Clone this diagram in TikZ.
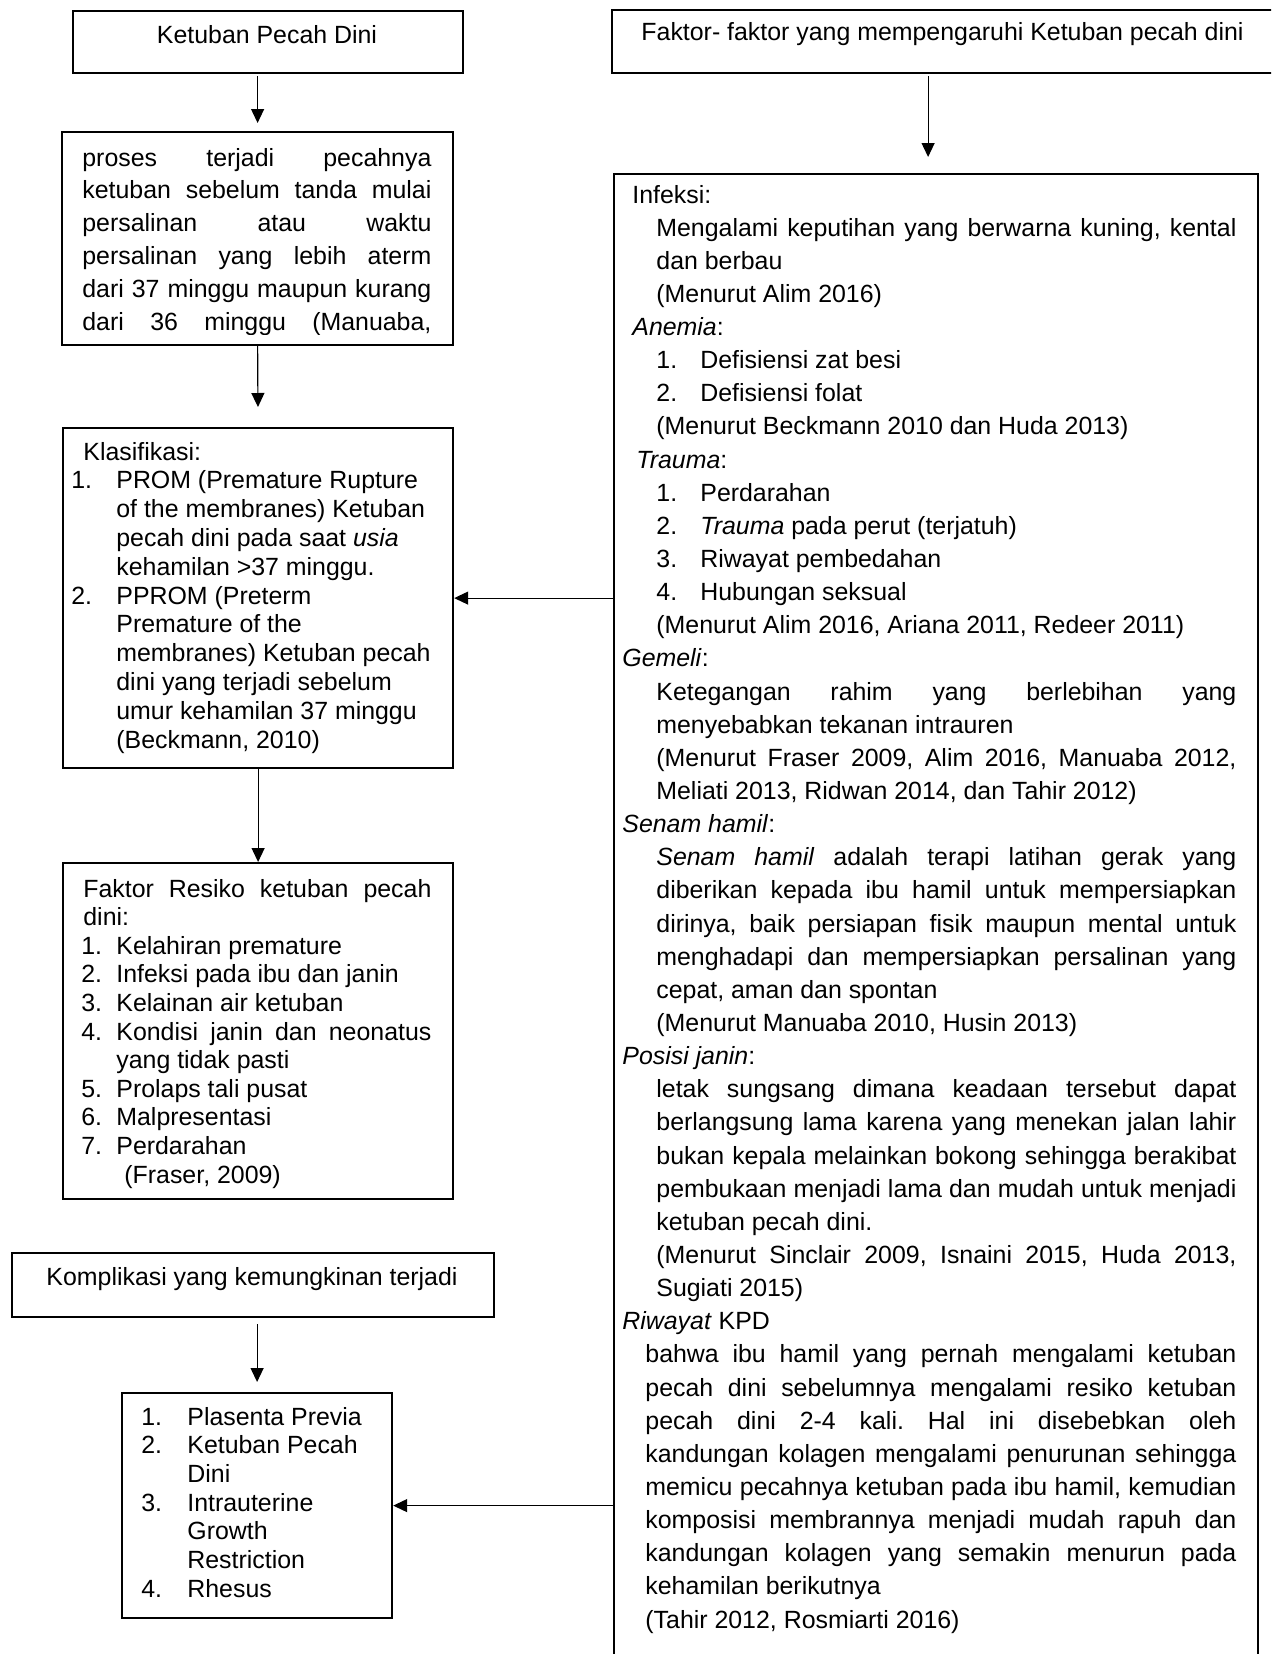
\documentclass[tikz,border=0pt]{standalone}
\usepackage{fontspec}
\setmainfont{Liberation Sans}
\usetikzlibrary{arrows.meta,calc}
\frenchspacing
\newcounter{tlc}
\newcommand\tline[3]{\stepcounter{tlc}\node[txt] (t\arabic{tlc}) at (#1,#2) {#3};}
\newcommand\jline[4]{\tline{#1}{#2}{\makebox[#3pt][s]{#4}}}
\newcommand\bxx[5]{\node[box, minimum width={(#4-#2)*0.5pt}, minimum height={(#5-#3)*0.5pt}] (#1) at (#2,#3) {};}
% right column lines: index -> baseline
\newcommand\rl[3]{\tline{#1}{203+33.14*#2}{#3}}
\newcommand\rj[4]{\jline{#1}{203+33.14*#2}{#3}{#4}}
\begin{document}
\begin{tikzpicture}[x=0.5pt,y=-0.5pt,
  box/.style={draw, line width=1.1pt, inner sep=0pt, anchor=north west},
  txt/.style={anchor=base west, inner sep=0pt, font=\fontsize{12.45pt}{14pt}\selectfont\frenchspacing},
  ctxt/.style={txt, anchor=base},
  arr/.style={line width=0.6pt, -{Triangle[length=7pt,width=6.5pt]}}]
\useasboundingbox (0,0) rectangle (1271,1654);
\clip (0,0) rectangle (1271,1654);
% ---------- left column boxes
\bxx{kpd}{72}{10}{462}{72}
\node[ctxt] (kpdt) at (267,43) {Ketuban Pecah Dini};
\bxx{def}{61}{131}{452}{344}
\bxx{kla}{62}{427}{452}{767}
\bxx{fr}{62}{862}{452}{1198}
\bxx{komp}{11}{1252}{493}{1316}
\node[ctxt] (kompt) at (252,1285) {Komplikasi yang kemungkinan terjadi};
\bxx{cmp}{121}{1392}{391}{1617}
% ---------- right column boxes
\bxx{ff}{611}{9}{1290}{72}
\node[ctxt] (fft) at (942.5,40) {Faktor- faktor yang mempengaruhi Ketuban pecah dini};
\bxx{big}{613}{173}{1257}{1700}
% ---------- connectors
\draw[arr, shorten >=4pt, shorten <=1pt] (kpd.south -| def.north) -- (def.north);
\draw[arr, shorten >=10pt, shorten <=-1pt] (def.south) -- (kla.north);
\draw[arr] (kla.south) -- (fr.north);
\draw[arr, shorten >=5pt, shorten <=3pt] (komp.south -| cmp.north) -- (cmp.north);
\draw[arr, shorten >=8pt, shorten <=1pt] ($(ff.south -| big.north)+(-8,0)$) -- ($(big.north)+(-8,0)$);
\draw[arr] (big.west |- kla.east) -- (kla.east);
\draw[arr] (big.west |- cmp.east) -- (cmp.east);
% ---------- box 2 text (clipped)
\begin{scope}
\clip (61,131) rectangle (452,334);
\jline{82}{166}{174.5}{proses terjadi pecahnya}
\jline{82}{166+32.8}{174.5}{ketuban sebelum tanda mulai}
\jline{82}{166+32.8*2}{174.5}{persalinan atau waktu}
\jline{82}{166+32.8*3}{174.5}{persalinan yang lebih aterm}
\jline{82}{166+32.8*4}{174.5}{dari 37 minggu maupun kurang}
\jline{82}{166+32.8*5}{174.5}{dari 36 minggu (Manuaba,}
\end{scope}
% ---------- box 3 text
\tline{83}{460}{Klasifikasi:}
\tline{71}{460+28.8}{1.}
\tline{116}{460+28.8}{PROM (Premature Rupture}
\tline{116}{460+28.8*2}{of the membranes) Ketuban}
\tline{116}{460+28.8*3}{pecah dini pada saat \textit{usia}}
\tline{116}{460+28.8*4}{kehamilan >37 minggu.}
\tline{71}{460+28.8*5}{2.}
\tline{116}{460+28.8*5}{PPROM (Preterm}
\tline{116}{460+28.8*6}{Premature of the}
\tline{116}{460+28.8*7}{membranes) Ketuban pecah}
\tline{116}{460+28.8*8}{dini yang terjadi sebelum}
\tline{116}{460+28.8*9}{umur kehamilan 37 minggu}
\tline{116}{460+28.8*10}{(Beckmann, 2010)}
% ---------- box 4 text
\jline{83}{897}{174}{Faktor Resiko ketuban pecah}
\tline{83}{897+28.6}{dini:}
\tline{81}{897+28.6*2}{1.}\tline{116}{897+28.6*2}{Kelahiran premature}
\tline{81}{897+28.6*3}{2.}\tline{116}{897+28.6*3}{Infeksi pada ibu dan janin}
\tline{81}{897+28.6*4}{3.}\tline{116}{897+28.6*4}{Kelainan air ketuban}
\tline{81}{897+28.6*5}{4.}\jline{116}{897+28.6*5}{157.5}{Kondisi janin dan neonatus}
\tline{116}{897+28.6*6}{yang tidak pasti}
\tline{81}{897+28.6*7}{5.}\tline{116}{897+28.6*7}{Prolaps tali pusat}
\tline{81}{897+28.6*8}{6.}\tline{116}{897+28.6*8}{Malpresentasi}
\tline{81}{897+28.6*9}{7.}\tline{116}{897+28.6*9}{Perdarahan}
\tline{124}{897+28.6*10}{(Fraser, 2009)}
% ---------- box 6 text
\tline{141}{1425}{1.}\tline{187}{1425}{Plasenta Previa}
\tline{141}{1425+28.67}{2.}\tline{187}{1425+28.67}{Ketuban Pecah}
\tline{187}{1425+28.67*2}{Dini}
\tline{141}{1425+28.67*3}{3.}\tline{187}{1425+28.67*3}{Intrauterine}
\tline{187}{1425+28.67*4}{Growth}
\tline{187}{1425+28.67*5}{Restriction}
\tline{141}{1425+28.67*6}{4.}\tline{187}{1425+28.67*6}{Rhesus}
% ---------- big right box text
\rl{632}{0}{Infeksi:}
\rj{656}{1}{290}{Mengalami keputihan yang berwarna kuning, kental}
\rl{656}{2}{dan berbau}
\rl{656}{3}{(Menurut Alim 2016)}
\rl{632}{4}{\textit{Anemia}:}
\rl{656}{5}{1.}\rl{700}{5}{Defisiensi zat besi}
\rl{656}{6}{2.}\rl{700}{6}{Defisiensi folat}
\rl{656}{7}{(Menurut Beckmann 2010 dan Huda 2013)}
\rl{636}{8}{\textit{Trauma}:}
\rl{656}{9}{1.}\rl{700}{9}{Perdarahan}
\rl{656}{10}{2.}\rl{700}{10}{\textit{Trauma} pada perut (terjatuh)}
\rl{656}{11}{3.}\rl{700}{11}{Riwayat pembedahan}
\rl{656}{12}{4.}\rl{700}{12}{Hubungan seksual}
\rl{656}{13}{(Menurut Alim 2016, Ariana 2011, Redeer 2011)}
\rl{622}{14}{\textit{Gemeli}:}
\rj{656}{15}{290}{Ketegangan rahim yang berlebihan yang}
\rl{656}{16}{menyebabkan tekanan intrauren}
\rj{656}{17}{290}{(Menurut Fraser 2009, Alim 2016, Manuaba 2012,}
\rl{656}{18}{Meliati 2013, Ridwan 2014, dan Tahir 2012)}
\rl{622}{19}{\textit{Senam hamil}:}
\rj{656}{20}{290}{\textit{Senam hamil} adalah terapi latihan gerak yang}
\rj{656}{21}{290}{diberikan kepada ibu hamil untuk mempersiapkan}
\rj{656}{22}{290}{dirinya, baik persiapan fisik maupun mental untuk}
\rj{656}{23}{290}{menghadapi dan mempersiapkan persalinan yang}
\rl{656}{24}{cepat, aman dan spontan}
\rl{656}{25}{(Menurut Manuaba 2010, Husin 2013)}
\rl{622}{26}{\textit{Posisi janin}:}
\rj{656}{27}{290}{letak sungsang dimana keadaan tersebut dapat}
\rj{656}{28}{290}{berlangsung lama karena yang menekan jalan lahir}
\rj{656}{29}{290}{bukan kepala melainkan bokong sehingga berakibat}
\rj{656}{30}{290}{pembukaan menjadi lama dan mudah untuk menjadi}
\rl{656}{31}{ketuban pecah dini.}
\rj{656}{32}{290}{(Menurut Sinclair 2009, Isnaini 2015, Huda 2013,}
\rl{656}{33}{Sugiati 2015)}
\rl{622}{34}{\textit{Riwayat} KPD}
\rj{645}{35}{295.5}{bahwa ibu hamil yang pernah mengalami ketuban}
\rj{645}{36}{295.5}{pecah dini sebelumnya mengalami resiko ketuban}
\rj{645}{37}{295.5}{pecah dini 2-4 kali. Hal ini disebebkan oleh}
\rj{645}{38}{295.5}{kandungan kolagen mengalami penurunan sehingga}
\rj{645}{39}{295.5}{memicu pecahnya ketuban pada ibu hamil, kemudian}
\rj{645}{40}{295.5}{komposisi membrannya menjadi mudah rapuh dan}
\rj{645}{41}{295.5}{kandungan kolagen yang semakin menurun pada}
\rl{645}{42}{kehamilan berikutnya}
\rl{645}{43}{(Tahir 2012, Rosmiarti 2016)}
\end{tikzpicture}
\end{document}
